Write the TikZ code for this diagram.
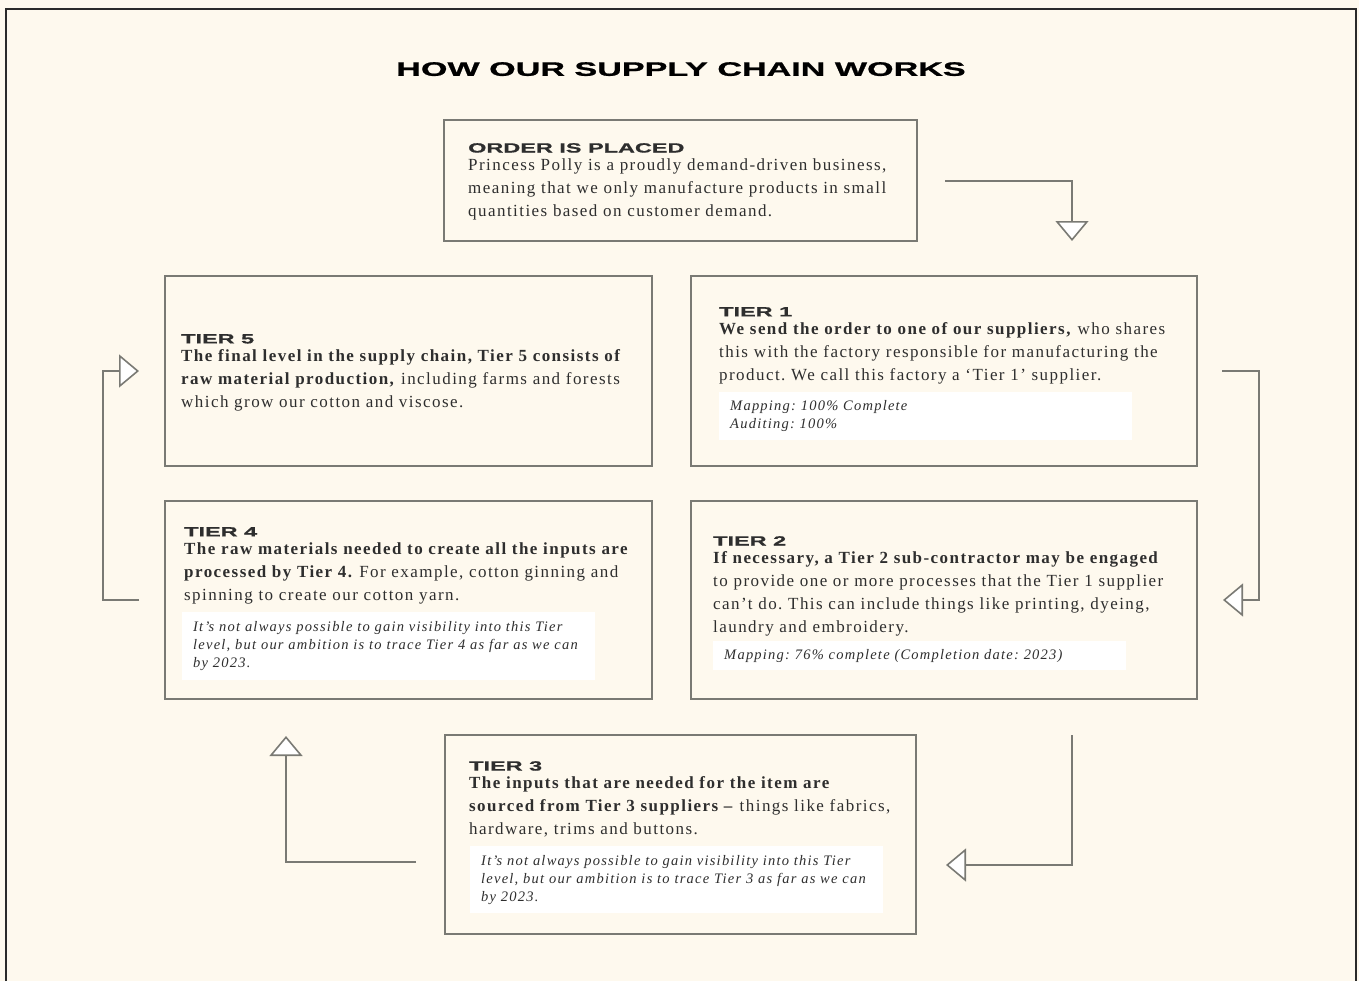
\documentclass[tikz,border=0pt]{standalone}
\usepackage{fontspec}
\setmainfont{Liberation Serif}[LetterSpace=8.5]
\newfontfamily\notefont{Liberation Serif}[LetterSpace=8.5]
\newfontfamily\headfont{Liberation Sans}[FakeStretch=1.75, BoldFeatures={FakeBold=1}]
\usetikzlibrary{arrows.meta}
\frenchspacing

\definecolor{paper}{HTML}{FEF9EE}
\definecolor{boxgray}{HTML}{7A7A74}
\definecolor{ink}{HTML}{2E2E2E}
\definecolor{framecol}{HTML}{2A2A2A}

\newcommand{\tierhead}[1]{{\headfont\bfseries\fontsize{13.4}{14}\selectfont #1}}

\tikzset{
	tierbox/.style={draw=boxgray, line width=1.8pt, fill=paper},
	tiertext/.style={anchor=north west, inner sep=0pt, align=left, text=ink, font=\fontsize{17}{23}\selectfont},
	tiernote/.style={anchor=north west, fill=white, inner xsep=11pt, inner ysep=0pt, text width=391pt, align=left, text=ink, font=\notefont\fontsize{14.5}{18}\selectfont\itshape},
	flow/.style={draw=boxgray, line width=1.6pt, -{Triangle[length=20pt, width=33pt, fill=white]}}
}

\begin{document}
\begin{tikzpicture}[x=1pt,y=-1pt]
	\fill[paper] (0,0) rectangle (1359,981);
	\draw[framecol, line width=2.4pt] (6,981) -- (6,9) -- (1356,9) -- (1356,981);
	\node[anchor=north, inner sep=0pt, text=black, font=\headfont\bfseries\fontsize{19.5}{20}\selectfont] (title) at (681,62) {HOW OUR SUPPLY CHAIN WORKS};

	% boxes
	\node[tierbox, minimum width=473pt, minimum height=121pt] (order) at (680.5,180.5) {};
	\node[tierbox, minimum width=487pt, minimum height=190pt] (tier5) at (408.5,371) {};
	\node[tierbox, minimum width=506pt, minimum height=190pt] (tier1) at (944,371) {};
	\node[tierbox, minimum width=487pt, minimum height=198pt] (tier4) at (408.5,600) {};
	\node[tierbox, minimum width=506pt, minimum height=198pt] (tier2) at (944,600) {};
	\node[tierbox, minimum width=471pt, minimum height=199pt] (tier3) at (680.5,834.5) {};

	% texts
	\node[tiertext] (ordertext) at (468,143) {\tierhead{ORDER IS PLACED}\\[-5pt]
		Princess Polly is a proudly demand-driven business,\\
		meaning that we only manufacture products in small\\
		quantities based on customer demand.};
	\node[tiertext] (tier1text) at (719,307) {\tierhead{TIER 1}\\[-5pt]
		\textbf{We send the order to one of our suppliers,} who shares\\
		this with the factory responsible for manufacturing the\\
		product. We call this factory a ‘Tier 1’ supplier.};
	\node[tiertext] (tier5text) at (181,334) {\tierhead{TIER 5}\\[-5pt]
		\textbf{The final level in the supply chain, Tier 5 consists of}\\
		\textbf{raw material production,} including farms and forests\\
		which grow our cotton and viscose.};
	\node[tiertext] (tier4text) at (184,527) {\tierhead{TIER 4}\\[-5pt]
		\textbf{The raw materials needed to create all the inputs are}\\
		\textbf{processed by Tier 4.} For example, cotton ginning and\\
		spinning to create our cotton yarn.};
	\node[tiertext] (tier2text) at (713,536) {\tierhead{TIER 2}\\[-5pt]
		\textbf{If necessary, a Tier 2 sub-contractor may be engaged}\\
		to provide one or more processes that the Tier 1 supplier\\
		can’t do. This can include things like printing, dyeing,\\
		laundry and embroidery.};
	\node[tiertext] (tier3text) at (469,761) {\tierhead{TIER 3}\\[-5pt]
		\textbf{The inputs that are needed for the item are}\\
		\textbf{sourced from Tier 3 suppliers –} things like fabrics,\\
		hardware, trims and buttons.};

	% notes
	\node[tiernote, minimum height=48pt] (tier1note) at (719,392) {Mapping: 100\% Complete\\Auditing: 100\%};
	\node[tiernote, minimum height=68pt] (tier4note) at (182,612) {It’s not always possible to gain visibility into this Tier\\level, but our ambition is to trace Tier 4 as far as we can\\by 2023.};
	\node[tiernote, minimum height=29pt] (tier2note) at (713,641) {Mapping: 76\% complete (Completion date: 2023)};
	\node[tiernote, minimum height=67pt] (tier3note) at (470,846) {It’s not always possible to gain visibility into this Tier\\level, but our ambition is to trace Tier 3 as far as we can\\by 2023.};

	% arrows
	\coordinate (a1) at (945,181);
	\coordinate (a1tip) at (1072,241);
	\coordinate (a2) at (1222,371);
	\coordinate (a2turn) at (1259,371);
	\coordinate (a2tip) at (1223,600);
	\coordinate (a3) at (1072,735);
	\coordinate (a3tip) at (946,865);
	\coordinate (a4) at (416,862);
	\coordinate (a4tip) at (286,736);
	\coordinate (a5) at (139,600);
	\coordinate (a5turn) at (103,600);
	\coordinate (a5tip) at (139,371);
	\draw[flow] (a1) -| (a1tip);
	\draw[flow] (a2) -- (a2turn) |- (a2tip);
	\draw[flow] (a3) |- (a3tip);
	\draw[flow] (a4) -| (a4tip);
	\draw[flow] (a5) -- (a5turn) |- (a5tip);
\end{tikzpicture}
\end{document}
